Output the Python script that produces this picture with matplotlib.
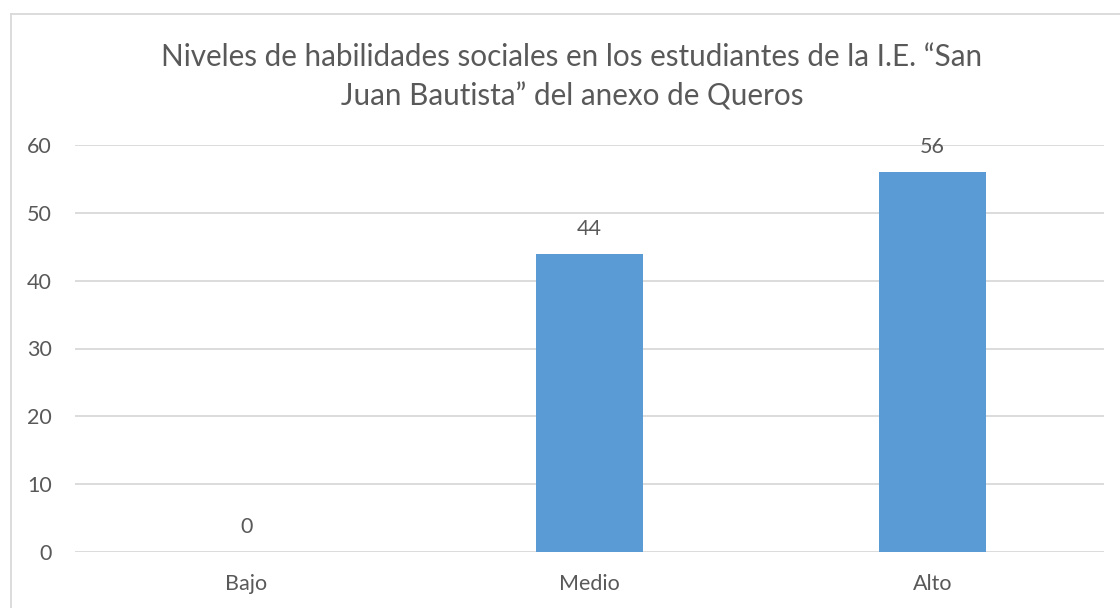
import matplotlib
matplotlib.use("Agg")
import matplotlib.pyplot as plt
from matplotlib.lines import Line2D

categories = ["Bajo", "Medio", "Alto"]
values = [0, 44, 56]
yticks = [0, 10, 20, 30, 40, 50, 60]
title = "Niveles de habilidades sociales en los estudiantes de la I.E. \u201cSan\nJuan Bautista\u201d del anexo de Queros"

plt.rcParams['font.family'] = ['Lato', 'DejaVu Sans']
TXT = "#595959"
GRID = "#D9D9D9"
BAR = "#5B9BD5"

fig = plt.figure(figsize=(11.2, 6.08), dpi=100)
ax = fig.add_axes([75/1120, 1-552/608, (1104-75)/1120, (552-145)/608])

x = list(range(len(categories)))
bars = ax.bar(x, values, width=0.31, color=BAR, zorder=3)
ax.set_xlim(-0.5, len(categories)-0.5)
ax.set_ylim(0, 60)
ax.set_yticks(yticks)
ax.set_xticks(x)
ax.set_xticklabels(categories)
for yv in yticks:
    ax.axhline(yv, color=GRID, lw=1.3, zorder=1)
for s in ax.spines.values():
    s.set_visible(False)
ax.tick_params(axis='both', length=0, colors=TXT, labelsize=15.5)
ax.tick_params(axis='y', pad=16.5)
ax.tick_params(axis='x', pad=16)

for xi, v in zip(x, values):
    ax.annotate(f"{v}", (xi, v), xytext=(0, 18), textcoords='offset points',
                ha='center', va='center', color=TXT, fontsize=15.5)

fig.text(572/1120, 1-77/608, title, ha='center', va='center', color=TXT,
         fontsize=21.3, linespacing=1.5)

fig.add_artist(Line2D([11/1120, 1], [1-14/608, 1-14/608], color=GRID, lw=1.3, transform=fig.transFigure))
fig.add_artist(Line2D([11/1120, 11/1120], [0, 1-14/608], color=GRID, lw=1.3, transform=fig.transFigure))

fig.savefig("out.png", dpi=100)
